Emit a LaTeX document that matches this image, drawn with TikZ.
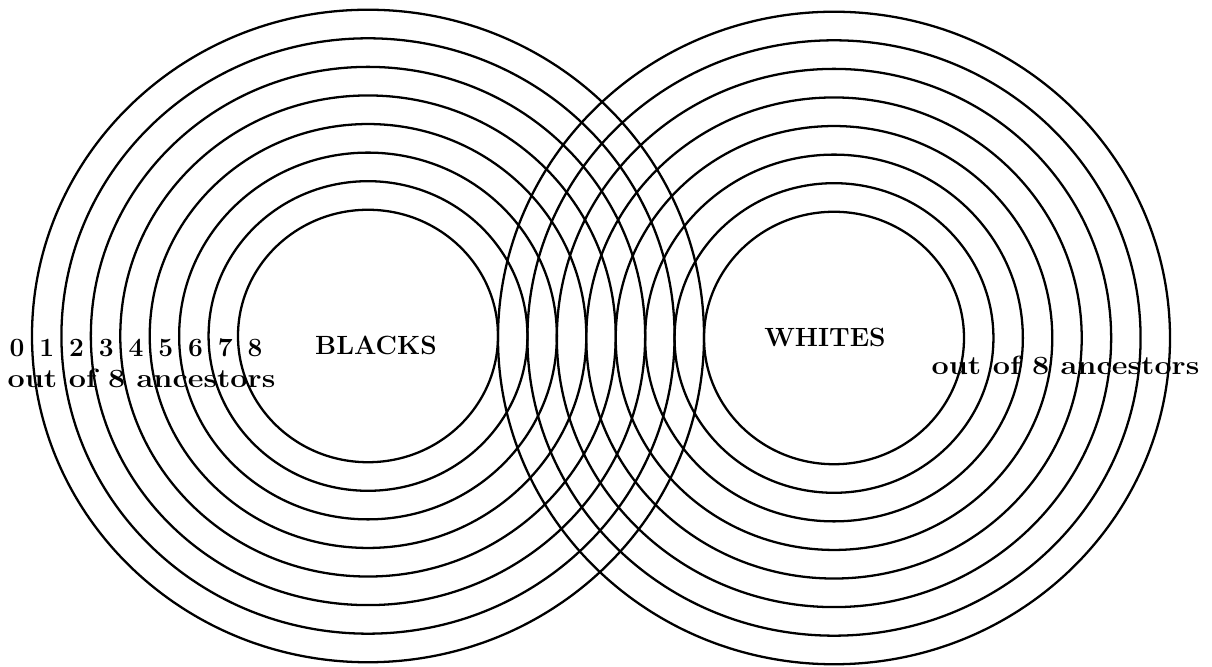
\documentclass[tikz,border=0pt]{standalone}
\usepackage{fontspec}
\usepackage{tikz}
\usetikzlibrary{positioning}

\newcommand{\widetext}[1]{\scalebox{1.16}[1]{#1}}

\begin{document}
\begin{tikzpicture}[
    ring/.style={draw=black, line width=1.3pt},
    lbl/.style={inner sep=0pt, anchor=base, font=\fontsize{15}{17}\selectfont\bfseries}
]
    \useasboundingbox (0,0) rectangle (24.24,13.34);

    % the two families of rings
    \coordinate (blacks) at (7.36,6.62);
    \coordinate (whites) at (16.68,6.58);
    \foreach \i in {0,...,7}{
        \draw[ring] (blacks) ellipse [x radius={2.6+0.5886*\i}, y radius={0.971*(2.6+0.5886*\i)}];
        \draw[ring] (whites) ellipse [x radius={2.6+0.5886*\i}, y radius={0.971*(2.6+0.5886*\i)}];
    }

    % labels
    \node[lbl] (bl) at (7.52,6.24) {BLACKS};
    \node[lbl] (wh) at (16.50,6.40) {WHITES};
    \foreach \k in {0,...,8}{
        \node[lbl] (d\k) at ({0.34+0.595*\k},6.20) {\k};
    }
    \node[lbl] (outl) at (2.83,5.58) {\widetext{out of 8 ancestors}};
    \node[lbl] (outr) at (21.31,5.84) {\widetext{out of 8 ancestors}};
\end{tikzpicture}
\end{document}
